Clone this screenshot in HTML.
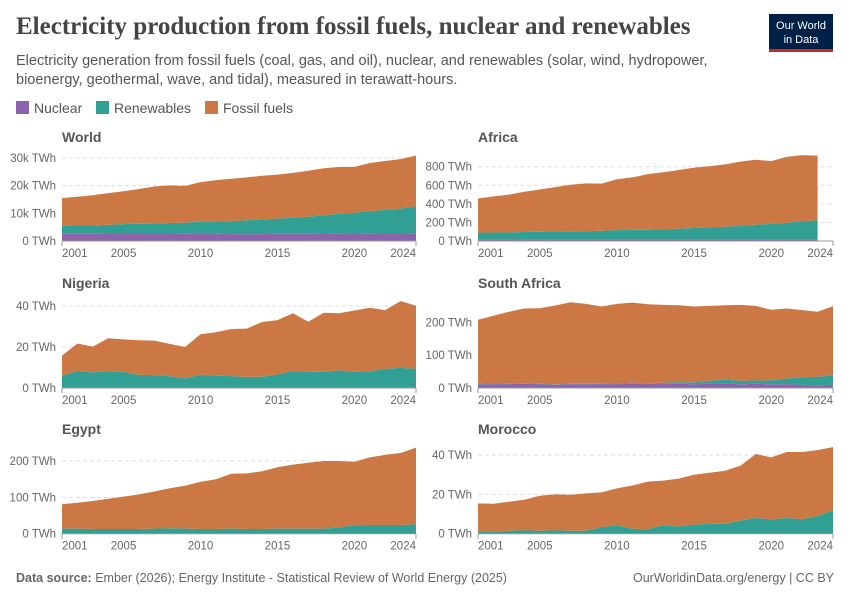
<!DOCTYPE html>
<html><head><meta charset="utf-8">
<style>
body{margin:0;background:#fff;font-family:"Liberation Sans",sans-serif;}
#wrap{position:relative;width:850px;height:600px;overflow:hidden;}
</style></head>
<body>
<div id="wrap">
<svg id="svg" width="850" height="600" xmlns="http://www.w3.org/2000/svg">
<text x="16" y="34" font-family="Liberation Serif,serif" font-weight="bold" font-size="25" fill="#444">Electricity production from fossil fuels, nuclear and renewables</text>
<text x="16" y="65" font-size="14.5" fill="#555">Electricity generation from fossil fuels (coal, gas, and oil), nuclear, and renewables (solar, wind, hydropower,</text>
<text x="16" y="84" font-size="14.5" fill="#555">bioenergy, geothermal, wave, and tidal), measured in terawatt-hours.</text>
<g>
<rect x="769" y="14" width="64" height="37" fill="#002147"/>
<rect x="769" y="49" width="64" height="3" fill="#ce261e"/>
<text x="801" y="29" text-anchor="middle" font-size="11" fill="#fff">Our World</text>
<text x="801" y="43" text-anchor="middle" font-size="11" fill="#fff">in Data</text>
</g>
<g>
<rect x="16" y="101" width="13" height="13" fill="#8c64ab"/>
<text x="34" y="113" font-size="14" fill="#555">Nuclear</text>
<rect x="96" y="101" width="13" height="13" fill="#319f94"/>
<text x="114" y="113" font-size="14" fill="#555">Renewables</text>
<rect x="205" y="101" width="13" height="13" fill="#cc7845"/>
<text x="223" y="113" font-size="14" fill="#555">Fossil fuels</text>
</g>
<text x="16" y="582" font-size="12.5" fill="#666"><tspan font-weight="bold">Data source:</tspan> Ember (2026); Energy Institute - Statistical Review of World Energy (2025)</text>
<text x="834" y="582" text-anchor="end" font-size="12.5" fill="#666">OurWorldinData.org/energy | CC BY</text>
<g id="panels"></g>
</svg>
</div>
<script>
const years=[2001,2002,2003,2004,2005,2006,2007,2008,2009,2010,2011,2012,2013,2014,2015,2016,2017,2018,2019,2020,2021,2022,2023,2024];
const xTickLabels=["2001","2005","2010","2015","2020","2024"];
const xTickYears=[2001,2005,2010,2015,2020,2024];

const worldNuclear=[2.6,2.6,2.6,2.7,2.7,2.7,2.7,2.7,2.6,2.8,2.6,2.5,2.5,2.5,2.6,2.6,2.6,2.7,2.8,2.7,2.8,2.7,2.7,2.8];
const worldRenew=[2.9,3.0,3.0,3.2,3.4,3.5,3.6,3.8,4.0,4.2,4.4,4.7,5.0,5.3,5.5,5.8,6.2,6.6,7.0,7.5,8.0,8.5,9.0,9.7];
const worldFossil=[10.0,10.4,10.9,11.4,11.9,12.6,13.4,13.6,13.3,14.3,15.0,15.3,15.5,15.8,15.9,16.2,16.6,17.0,17.0,16.6,17.4,17.7,17.9,18.4];

const africaNuclear=[12,12,12,12,12,12,12,12,12,12,12,12,12,12,12,12,12,12,12,12,12,12,12];
const africaRenew=[78,80,80,85,88,90,92,95,98,105,108,110,115,122,128,135,142,150,165,172,185,200,212];
const africaFossil=[368,388,408,433,455,478,501,513,508,548,565,598,613,631,650,658,671,693,698,676,708,713,696];

const nigeriaNuclear=[0,0,0,0,0,0,0,0,0,0,0,0,0,0,0,0,0,0,0,0,0,0,0,0];
const nigeriaRenew=[6.0,8.3,7.6,8.1,7.8,6.4,6.3,5.8,4.7,6.5,6.0,5.8,5.4,5.5,6.6,8.3,7.9,7.9,8.6,7.9,8.1,9.4,9.8,9.4];
const nigeriaFossil=[9.8,13.4,12.6,16.2,15.9,16.9,16.8,15.7,15.3,19.7,21.2,23.0,23.6,26.7,26.5,28.2,24.4,28.8,27.9,29.9,31.0,28.6,32.6,30.8];

const saNuclear=[11,12,12,13,12,10,12,12,12,12,13,12,14,14,11,15,15,11,13,11,12,10,8,10];
const saRenew=[2,2,1,1,1,1,1,1,1,2,3,2,2,4,6,7,10,11,10,12,17,22,26,28];
const saFossil=[195,206,219,228,230,240,248,243,235,242,244,241,237,234,231,228,227,231,227,215,213,205,198,211];

const egyptNuclear=[0,0,0,0,0,0,0,0,0,0,0,0,0,0,0,0,0,0,0,0,0,0,0,0];
const egyptRenew=[14,14,13,13,13,13,14,15,14,13,13,14,13,13,14,14,14,14,17,23,24,24,24,26];
const egyptFossil=[67,71,77,83,89,95,102,110,118,130,137,151,153,159,169,176,181,186,183,175,186,193,198,211];

const moroccoNuclear=[0,0,0,0,0,0,0,0,0,0,0,0,0,0,0,0,0,0,0,0,0,0,0,0];
const moroccoRenew=[1.2,1.0,1.5,1.7,1.5,1.7,1.5,1.5,3.3,4.3,2.5,2.3,4.3,3.6,4.6,5.0,5.0,6.7,8.0,7.3,8.0,7.3,9.0,12.0];
const moroccoFossil=[14.2,14.2,14.7,15.6,17.8,18.3,18.3,19.0,17.7,18.7,22.0,24.2,22.7,24.4,25.4,26.0,27.0,27.8,32.5,31.5,33.5,34.2,33.5,32.0];

const worldTicks=[0,10,20,30]; const worldTickLabels=["0 TWh","10k TWh","20k TWh","30k TWh"];
const africaTicks=[0,200,400,600,800]; const africaTickLabels=["0 TWh","200 TWh","400 TWh","600 TWh","800 TWh"];
const nigeriaTicks=[0,20,40]; const nigeriaTickLabels=["0 TWh","20 TWh","40 TWh"];
const saTicks=[0,100,200]; const saTickLabels=["0 TWh","100 TWh","200 TWh"];
const egyptTicks=[0,100,200]; const egyptTickLabels=["0 TWh","100 TWh","200 TWh"];
const moroccoTicks=[0,20,40]; const moroccoTickLabels=["0 TWh","20 TWh","40 TWh"];

const NS="http://www.w3.org/2000/svg";
const root=document.getElementById('panels');
function mk(tag,attrs,parent){const e=document.createElementNS(NS,tag);for(const k in attrs)e.setAttribute(k,attrs[k]);parent.appendChild(e);return e;}
const COLORS={nuc:"#8c64ab",ren:"#319f94",fos:"#cc7845"};

function drawPanel(key,title,x0,x1,zeroY,topY,ticks,tickLabels,nuc,ren,fos){
  const g=mk('g',{},root);
  
  
  const maxT=ticks[ticks.length-1];
  const ys=v=>zeroY-(zeroY-topY)*v/maxT;
  const xs=yr=>x0+(x1-x0)*(yr-years[0])/(years[years.length-1]-years[0]);
  const t=mk('text',{x:x0,y:zeroY-98+(zeroY===241?0:(zeroY===388?0:0)),'font-size':14,'font-weight':'bold',fill:'#555'},g);
  t.setAttribute('y',title.y);
  t.textContent=title.text;
  
  
  ticks.forEach((v,i)=>{
    const y=ys(v);
    if(v>0){const l=mk('line',{x1:x0,x2:x1,y1:y,y2:y,stroke:'#ddd','stroke-dasharray':'4,3'},g);
      
      }
    const tl=mk('text',{x:x0-6,y:y+4,'text-anchor':'end','font-size':11.5,fill:'#666'},g);
    tl.textContent=tickLabels[i];
    
    
  });
  const n=fos.length;
  const layers=[[nuc,'nuc','nuclear'],[ren,'ren','renewables'],[fos,'fos','fossil']];
  let base=new Array(n).fill(0);
  layers.forEach(([arr,c,nm])=>{
    const top=base.map((b,i)=>b+arr[i]);
    let d='';
    for(let i=0;i<n;i++)d+=(i?'L':'M')+xs(years[i]).toFixed(1)+','+ys(top[i]).toFixed(1);
    for(let i=n-1;i>=0;i--)d+='L'+xs(years[i]).toFixed(1)+','+ys(base[i]).toFixed(1);
    const p=mk('path',{d:d+'Z',fill:COLORS[c]},g);
    
    
    base=top;
  });
  const ax=mk('line',{x1:x0,x2:x1,y1:zeroY,y2:zeroY,stroke:'#999'},g);
  
  
  [x0,x1].forEach(xx=>{const tk=mk('line',{x1:xx,x2:xx,y1:zeroY,y2:zeroY+5,stroke:'#999'},g);
    
    });
  xTickYears.forEach((yr,i)=>{
    const anchor=i===0?'start':(i===xTickYears.length-1?'end':'middle');
    const xl=mk('text',{x:xs(yr),y:zeroY+16,'text-anchor':anchor,'font-size':11.5,fill:'#666'},g);
    xl.textContent=xTickLabels[i];
    
    
  });
}
drawPanel('world',{text:'World',y:142},62,416,241,158,worldTicks,worldTickLabels,worldNuclear,worldRenew,worldFossil);
drawPanel('africa',{text:'Africa',y:142},478,833,241,166.7,africaTicks,africaTickLabels,africaNuclear,africaRenew,africaFossil);
drawPanel('nigeria',{text:'Nigeria',y:288},62,416,388,306,nigeriaTicks,nigeriaTickLabels,nigeriaNuclear,nigeriaRenew,nigeriaFossil);
drawPanel('south-africa',{text:'South Africa',y:288},478,833,388,322.3,saTicks,saTickLabels,saNuclear,saRenew,saFossil);
drawPanel('egypt',{text:'Egypt',y:434},62,416,533.7,461,egyptTicks,egyptTickLabels,egyptNuclear,egyptRenew,egyptFossil);
drawPanel('morocco',{text:'Morocco',y:434},478,833,533.7,455,moroccoTicks,moroccoTickLabels,moroccoNuclear,moroccoRenew,moroccoFossil);
</script>
</body></html>
